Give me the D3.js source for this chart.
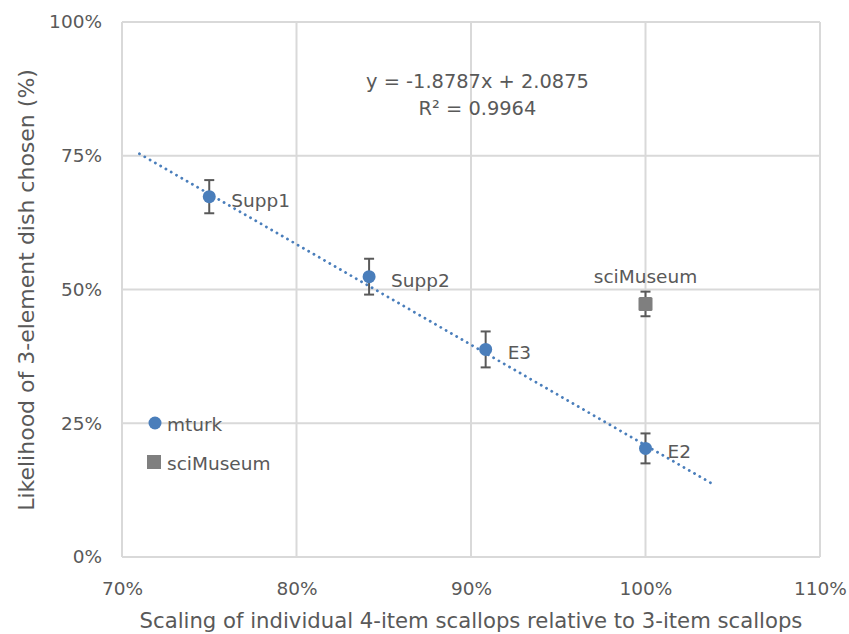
<!DOCTYPE html>
<html>
<head>
<meta charset="utf-8">
<script src="https://cdn.jsdelivr.net/npm/d3@7"></script>
<style>
  body { margin: 0; background: #fff; }
  text { font-family: "DejaVu Sans", Verdana, sans-serif; fill: #595959; }
</style>
</head>
<body>
<svg id="chart" width="849" height="634"></svg>
<script>
// data
const mturkLabels = ["Supp1", "Supp2", "E3", "E2"];
const mturkX = [0.75, 0.8416, 0.9084, 1.0];
const mturkY = [0.6735, 0.524, 0.388, 0.203];
const mturkErr = [0.031, 0.0335, 0.0336, 0.028];

const sciLabels = ["sciMuseum"];
const sciX = [1.0];
const sciY = [0.473];
const sciErr = [0.023];

const xTicks = [0.7, 0.8, 0.9, 1.0, 1.1];
const yTicks = [0, 0.25, 0.5, 0.75, 1.0];
const trendSlope = -1.8787, trendIntercept = 2.0875;
const trendRange = [0.71, 1.04];

const fs = "18.5px";

const svg = d3.select("#chart");
const margin = {top: 22, left: 122, right: 29, bottom: 77};
const width = 849 - margin.left - margin.right,
    height = 634 - margin.top - margin.bottom;

const x = d3.scaleLinear().domain([0.7, 1.1]).range([0, width]);
const y = d3.scaleLinear().domain([0, 1]).range([height, 0]);

const g = svg.append("g").attr("transform", "translate(" + margin.left + "," + margin.top + ")");

// gridlines
g.append("g").selectAll("line").data(xTicks).enter().append("line")
    .attr("x1", d => x(d)).attr("x2", d => x(d))
    .attr("y1", 0).attr("y2", height)
    .attr("stroke", "#d9d9d9").attr("stroke-width", 2);
g.append("g").selectAll("line").data(yTicks).enter().append("line")
    .attr("x1", 0).attr("x2", width)
    .attr("y1", d => y(d)).attr("y2", d => y(d))
    .attr("stroke", "#d9d9d9").attr("stroke-width", 2);

// axes (labels only)
const xAxis = g.append("g").attr("transform", "translate(0," + height + ")")
    .call(d3.axisBottom(x).tickValues(xTicks).tickFormat(d3.format(".0%")).tickSize(0).tickPadding(25));
const yAxis = g.append("g")
    .call(d3.axisLeft(y).tickValues(yTicks).tickFormat(d3.format(".0%")).tickSize(0).tickPadding(20));
[xAxis, yAxis].forEach(a => {
    a.select(".domain").remove();
    a.selectAll("text").style("font-size", fs).attr("fill", "#595959");
});

// axis titles
svg.append("text")
    .attr("x", 471).attr("y", 628)
    .attr("text-anchor", "middle").style("font-size", "21.2px")
    .text("Scaling of individual 4-item scallops relative to 3-item scallops");
svg.append("text")
    .attr("transform", "translate(34,290) rotate(-90)")
    .attr("text-anchor", "middle").style("font-size", "22px")
    .text("Likelihood of 3-element dish chosen (%)");

// trendline
g.append("line")
    .attr("x1", x(trendRange[0])).attr("y1", y(trendSlope * trendRange[0] + trendIntercept))
    .attr("x2", x(trendRange[1])).attr("y2", y(trendSlope * trendRange[1] + trendIntercept))
    .attr("stroke", "#4a7ebb").attr("stroke-width", 2.8)
    .attr("stroke-dasharray", "0.1 6").attr("stroke-linecap", "round");

// equation
const eq = g.append("text").attr("text-anchor", "middle").style("font-size", "19.4px");
eq.append("tspan").attr("x", x(0.9037)).attr("y", 66).text("y = -1.8787x + 2.0875");
eq.append("tspan").attr("x", x(0.9037)).attr("y", 93).text("R² = 0.9964");

// error bars
function errorBars(xs, ys, es) {
    const eb = g.append("g").attr("stroke", "#595959").attr("stroke-width", 2);
    xs.forEach((xv, i) => {
        const cx = x(xv), y0 = y(ys[i] - es[i]), y1 = y(ys[i] + es[i]);
        eb.append("line").attr("x1", cx).attr("x2", cx).attr("y1", y0).attr("y2", y1);
        eb.append("line").attr("x1", cx - 5).attr("x2", cx + 5).attr("y1", y0).attr("y2", y0);
        eb.append("line").attr("x1", cx - 5).attr("x2", cx + 5).attr("y1", y1).attr("y2", y1);
    });
}
errorBars(mturkX, mturkY, mturkErr);
errorBars(sciX, sciY, sciErr);

// points
g.append("g").selectAll("circle").data(mturkX).enter().append("circle")
    .attr("cx", d => x(d)).attr("cy", (d, i) => y(mturkY[i]))
    .attr("r", 6.5).attr("fill", "#4a7ebb");
g.append("g").selectAll("rect").data(sciX).enter().append("rect")
    .attr("x", d => x(d) - 7).attr("y", (d, i) => y(sciY[i]) - 7)
    .attr("width", 14).attr("height", 14).attr("rx", 1.5).attr("fill", "#7f7f7f");

// point labels
g.append("g").selectAll("text").data(mturkLabels).enter().append("text")
    .attr("x", (d, i) => x(mturkX[i]) + 22)
    .attr("y", (d, i) => y(mturkY[i]) + 10)
    .style("font-size", fs).text(d => d);
g.append("g").selectAll("text").data(sciLabels).enter().append("text")
    .attr("x", (d, i) => x(sciX[i]))
    .attr("y", (d, i) => y(sciY[i]) - 21)
    .attr("text-anchor", "middle").style("font-size", fs).text(d => d);

// legend
const legend = svg.append("g");
legend.append("circle").attr("cx", 155).attr("cy", 423).attr("r", 6.5).attr("fill", "#4a7ebb");
legend.append("text").attr("x", 167).attr("y", 431).style("font-size", fs).text("mturk");
legend.append("rect").attr("x", 147).attr("y", 455).attr("width", 14).attr("height", 14).attr("fill", "#7f7f7f");
legend.append("text").attr("x", 167).attr("y", 470).style("font-size", fs).text("sciMuseum");
</script>
</body>
</html>
